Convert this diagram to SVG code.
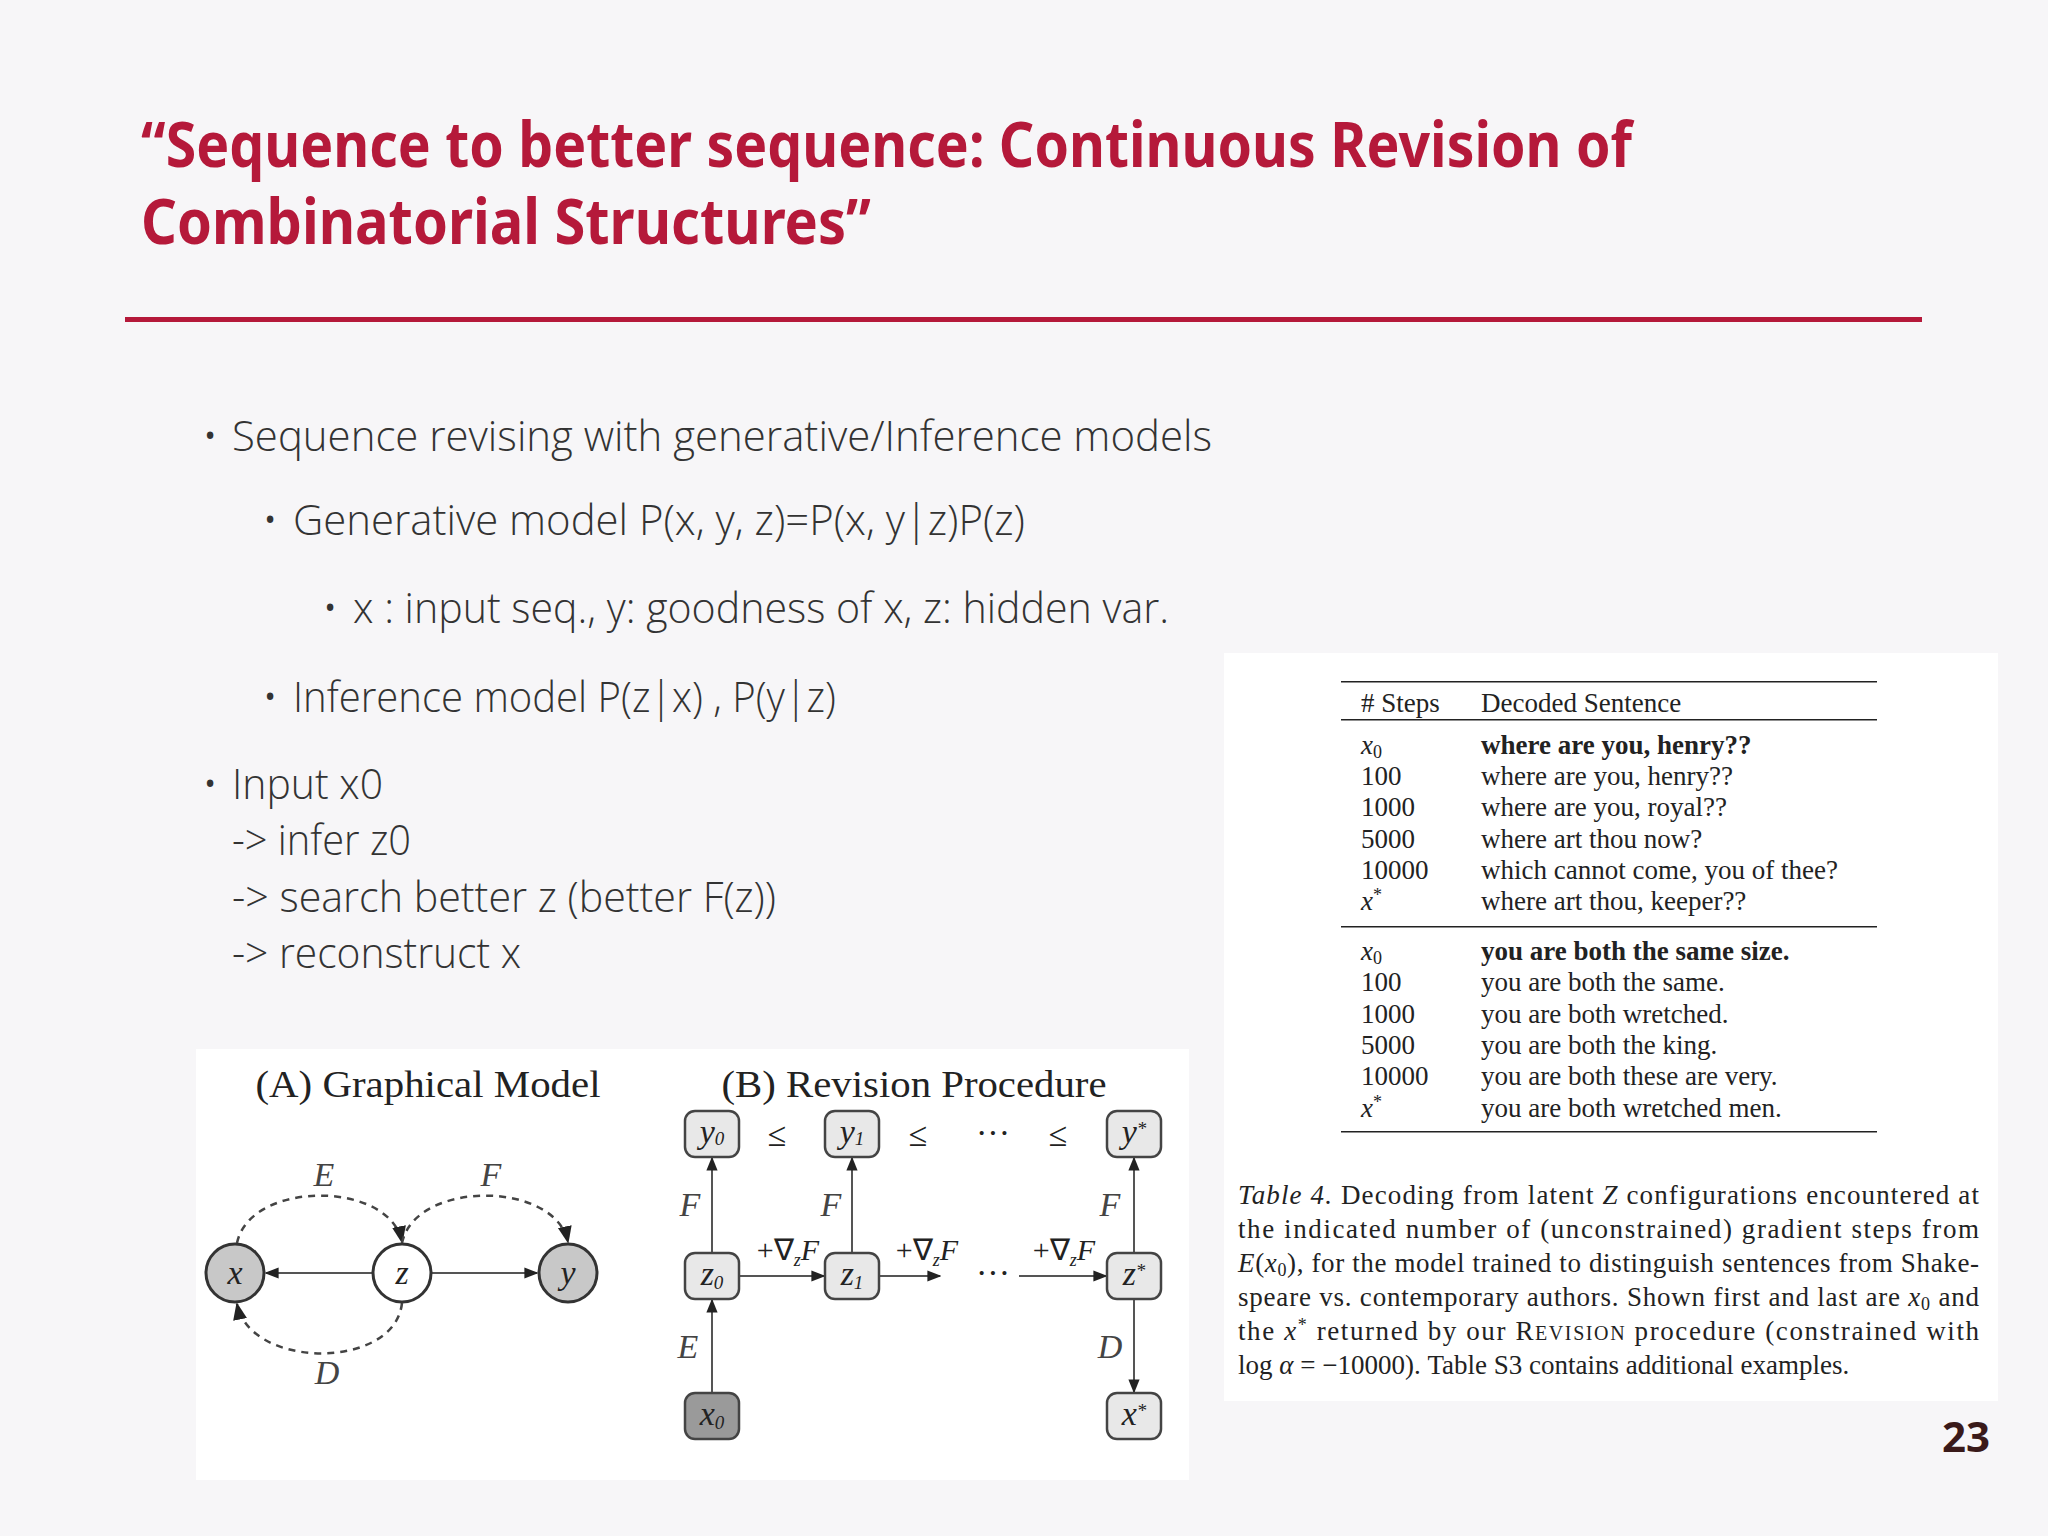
<svg xmlns="http://www.w3.org/2000/svg" width="2048" height="1536" viewBox="0 0 2048 1536">
<style>
.t{font-family:"Noto Sans","Open Sans",sans-serif;fill:#b5193a;font-weight:bold;font-size:62px}
.b{font-family:"Open Sans","Noto Sans",sans-serif;fill:#333;font-weight:300;font-size:43px}
.s{font-family:"Liberation Serif",serif;fill:#222}
.tb{font-size:27px}
.hd{font-size:38px}
.lb{font-size:34px;font-style:italic}
.cn{fill:#444;font-size:34px;font-style:italic}
.bx{fill:#e8e8e8;stroke:#444;stroke-width:2.5}
.ln{stroke:#555;stroke-width:2;fill:none}
.da{stroke:#444;stroke-width:2.5;fill:none;stroke-dasharray:7 6}
</style>
<defs>
<marker id="ar" viewBox="0 0 10 10" refX="9" refY="5" markerWidth="7" markerHeight="7" orient="auto-start-reverse"><path d="M0,1 L10,5 L0,9 z" fill="#222"/></marker>
</defs>
<rect width="2048" height="1536" fill="#f7f6f8"/>
<text class="t" x="141" y="167" textLength="1491" lengthAdjust="spacingAndGlyphs">“Sequence to better sequence: Continuous Revision of</text>
<text class="t" x="141" y="244" textLength="730" lengthAdjust="spacingAndGlyphs">Combinatorial Structures”</text>
<rect x="125" y="317" width="1797" height="5" fill="#b5193a"/>
<g id="bullets">
<text class="b" x="202" y="451">•</text><text class="b" x="232" y="451" textLength="980" lengthAdjust="spacingAndGlyphs">Sequence revising with generative/Inference models</text>
<text class="b" x="262" y="535">•</text><text class="b" x="293" y="535" textLength="732" lengthAdjust="spacingAndGlyphs">Generative model  P(x, y, z)=P(x, y|z)P(z)</text>
<text class="b" x="322" y="623">•</text><text class="b" x="353" y="623" textLength="816" lengthAdjust="spacingAndGlyphs">x : input seq., y: goodness of x, z: hidden var.</text>
<text class="b" x="262" y="712">•</text><text class="b" x="293" y="712" textLength="543" lengthAdjust="spacingAndGlyphs">Inference model P(z|x) , P(y|z)</text>
<text class="b" x="202" y="799">•</text><text class="b" x="232" y="799" textLength="151" lengthAdjust="spacingAndGlyphs">Input x0</text>
<text class="b" x="232" y="855" textLength="179" lengthAdjust="spacingAndGlyphs">-&gt; infer z0</text>
<text class="b" x="232" y="912" textLength="544" lengthAdjust="spacingAndGlyphs">-&gt; search better z (better F(z))</text>
<text class="b" x="232" y="968" textLength="289" lengthAdjust="spacingAndGlyphs">-&gt; reconstruct x</text>
</g>
<rect x="196" y="1049" width="993" height="431" fill="#fff"/>
<text class="s hd" x="428" y="1097" text-anchor="middle" textLength="345" lengthAdjust="spacingAndGlyphs">(A) Graphical Model</text>
<text class="s hd" x="914" y="1097" text-anchor="middle" textLength="385" lengthAdjust="spacingAndGlyphs">(B) Revision Procedure</text>
<g id="connectors">
<line class="ln" x1="373" y1="1273" x2="266" y2="1273" stroke="#222" stroke-width="3" marker-end="url(#ar)"/>
<line class="ln" x1="431" y1="1273" x2="537" y2="1273" stroke="#222" stroke-width="3" marker-end="url(#ar)"/>
<path class="da" d="M237 1243 C250 1180 390 1180 402 1242" marker-end="url(#ar)"/>
<path class="da" d="M402 1243 C415 1180 555 1180 568 1242" marker-end="url(#ar)"/>
<path class="da" d="M402 1303 C395 1370 250 1370 237 1304" marker-end="url(#ar)"/>
<line class="ln" x1="712" y1="1253" x2="712" y2="1158" marker-end="url(#ar)"/>
<line class="ln" x1="852" y1="1253" x2="852" y2="1158" marker-end="url(#ar)"/>
<line class="ln" x1="1134" y1="1253" x2="1134" y2="1158" marker-end="url(#ar)"/>
<line class="ln" x1="712" y1="1393" x2="712" y2="1300" marker-end="url(#ar)"/>
<line class="ln" x1="1134" y1="1299" x2="1134" y2="1392" marker-end="url(#ar)"/>
<line class="ln" x1="739" y1="1276" x2="824" y2="1276" stroke="#222" stroke-width="3" marker-end="url(#ar)"/>
<line class="ln" x1="879" y1="1276" x2="940" y2="1276" stroke="#222" stroke-width="3" marker-end="url(#ar)"/>
<line class="ln" x1="1019" y1="1276" x2="1106" y2="1276" stroke="#222" stroke-width="3" marker-end="url(#ar)"/>
</g>
<g id="n-x"><circle cx="235" cy="1273" r="29" fill="#c8c8c8" stroke="#333" stroke-width="3"/><text class="s lb" x="235" y="1284" text-anchor="middle">x</text></g>
<g id="n-z"><circle cx="402" cy="1273" r="29" fill="#fff" stroke="#333" stroke-width="3"/><text class="s lb" x="402" y="1284" text-anchor="middle">z</text></g>
<g id="n-y"><circle cx="568" cy="1273" r="29" fill="#c8c8c8" stroke="#333" stroke-width="3"/><text class="s lb" x="568" y="1284" text-anchor="middle">y</text></g>
<text class="s cn" x="324" y="1186" text-anchor="middle">E</text>
<text class="s cn" x="491" y="1186" text-anchor="middle">F</text>
<text class="s cn" x="327" y="1384" text-anchor="middle">D</text>
<g id="b-y0"><rect class="bx" x="685" y="1111" width="54" height="46" rx="10"/><text class="s lb" x="712" y="1143" text-anchor="middle" font-size="26">y<tspan font-size="19" dy="2">0</tspan></text></g>
<g id="b-y1"><rect class="bx" x="825" y="1111" width="54" height="46" rx="10"/><text class="s lb" x="852" y="1143" text-anchor="middle" font-size="26">y<tspan font-size="19" dy="2">1</tspan></text></g>
<g id="b-ys"><rect class="bx" x="1107" y="1111" width="54" height="46" rx="10"/><text class="s lb" x="1134" y="1143" text-anchor="middle" font-size="26">y<tspan font-size="19" dy="-8">*</tspan></text></g>
<g id="b-z0"><rect class="bx" x="685" y="1253" width="54" height="46" rx="10"/><text class="s lb" x="712" y="1285" text-anchor="middle" font-size="26">z<tspan font-size="19" dy="4">0</tspan></text></g>
<g id="b-z1"><rect class="bx" x="825" y="1253" width="54" height="46" rx="10"/><text class="s lb" x="852" y="1285" text-anchor="middle" font-size="26">z<tspan font-size="19" dy="4">1</tspan></text></g>
<g id="b-zs"><rect class="bx" x="1107" y="1253" width="54" height="46" rx="10"/><text class="s lb" x="1134" y="1285" text-anchor="middle" font-size="26">z<tspan font-size="19" dy="-8">*</tspan></text></g>
<g id="b-x0"><rect class="bx" x="685" y="1393" width="54" height="46" rx="10" style="fill:#9a9a9a"/><text class="s lb" x="712" y="1425" text-anchor="middle" font-size="26">x<tspan font-size="19" dy="4">0</tspan></text></g>
<g id="b-xs"><rect class="bx" x="1107" y="1393" width="54" height="46" rx="10"/><text class="s lb" x="1134" y="1425" text-anchor="middle" font-size="26">x<tspan font-size="19" dy="-8">*</tspan></text></g>
<g class="s" font-size="34" fill="#444" text-anchor="middle">
<text x="777" y="1146">≤</text><text x="918" y="1146">≤</text><text x="993" y="1144">···</text><text x="1058" y="1146">≤</text>
<text x="993" y="1284">···</text>
</g>
<text class="s cn" x="690" y="1216" text-anchor="middle">F</text>
<text class="s cn" x="831" y="1216" text-anchor="middle">F</text>
<text class="s cn" x="1110" y="1216" text-anchor="middle">F</text>
<text class="s cn" x="688" y="1358" text-anchor="middle">E</text>
<text class="s cn" x="1110" y="1358" text-anchor="middle">D</text>
<g class="s" font-size="30" fill="#333" text-anchor="middle">
<text x="788" y="1260">+∇<tspan font-size="18" font-style="italic" dy="6">z</tspan><tspan font-style="italic" dy="-6">F</tspan></text>
<text x="927" y="1260">+∇<tspan font-size="18" font-style="italic" dy="6">z</tspan><tspan font-style="italic" dy="-6">F</tspan></text>
<text x="1064" y="1260">+∇<tspan font-size="18" font-style="italic" dy="6">z</tspan><tspan font-style="italic" dy="-6">F</tspan></text>
</g>
<rect x="1224" y="653" width="774" height="748" fill="#fff"/>
<g id="table" class="s tb">
<rect x="1341" y="681" width="536" height="1.5" fill="#222"/>
<rect x="1341" y="719" width="536" height="1.5" fill="#222"/>
<rect x="1341" y="926" width="536" height="1.5" fill="#222"/>
<rect x="1341" y="1131" width="536" height="1.5" fill="#222"/>
<text x="1361" y="712">#&#160;Steps</text><text x="1481" y="712">Decoded Sentence</text>
<text x="1361" y="754" font-style="italic">x<tspan font-size="18" font-style="normal" dy="4">0</tspan></text><text x="1481" y="754" font-weight="bold">where are you, henry??</text>
<text x="1361" y="785">100</text><text x="1481" y="785">where are you, henry??</text>
<text x="1361" y="816">1000</text><text x="1481" y="816">where are you, royal??</text>
<text x="1361" y="848">5000</text><text x="1481" y="848">where art thou now?</text>
<text x="1361" y="879">10000</text><text x="1481" y="879">which cannot come, you of thee?</text>
<text x="1361" y="910" font-style="italic">x<tspan font-size="18" font-style="normal" dy="-9">*</tspan></text><text x="1481" y="910">where art thou, keeper??</text>
<text x="1361" y="960" font-style="italic">x<tspan font-size="18" font-style="normal" dy="4">0</tspan></text><text x="1481" y="960" font-weight="bold">you are both the same size.</text>
<text x="1361" y="991">100</text><text x="1481" y="991">you are both the same.</text>
<text x="1361" y="1023">1000</text><text x="1481" y="1023">you are both wretched.</text>
<text x="1361" y="1054">5000</text><text x="1481" y="1054">you are both the king.</text>
<text x="1361" y="1085">10000</text><text x="1481" y="1085">you are both these are very.</text>
<text x="1361" y="1117" font-style="italic">x<tspan font-size="18" font-style="normal" dy="-9">*</tspan></text><text x="1481" y="1117">you are both wretched men.</text>
</g>
<g id="caption" class="s tb">
<text x="1238" y="1204" textLength="741" lengthAdjust="spacing"><tspan font-style="italic">Table 4.</tspan> Decoding from latent <tspan font-style="italic">Z</tspan> configurations encountered at</text>
<text x="1238" y="1238" textLength="741" lengthAdjust="spacing">the indicated number of (unconstrained) gradient steps from</text>
<text x="1238" y="1272" textLength="741" lengthAdjust="spacing"><tspan font-style="italic">E</tspan>(<tspan font-style="italic">x</tspan><tspan font-size="18" dy="4">0</tspan><tspan dy="-4">), for the model trained to distinguish sentences from Shake-</tspan></text>
<text x="1238" y="1306" textLength="741" lengthAdjust="spacing">speare vs. contemporary authors. Shown first and last are <tspan font-style="italic">x</tspan><tspan font-size="18" dy="4">0</tspan><tspan dy="-4"> and</tspan></text>
<text x="1238" y="1340" textLength="741" lengthAdjust="spacing">the <tspan font-style="italic">x</tspan><tspan font-size="18" dy="-9">*</tspan><tspan dy="9"> returned by our R</tspan><tspan font-size="20">EVISION</tspan> procedure (constrained with</text>
<text x="1238" y="1374">log <tspan font-style="italic">α</tspan> = −10000). Table S3 contains additional examples.</text>
</g>
<text x="1966" y="1452" font-family="Noto Sans,sans-serif" font-weight="bold" font-size="42" fill="#3a1a1a" text-anchor="middle">23</text>
</svg>
